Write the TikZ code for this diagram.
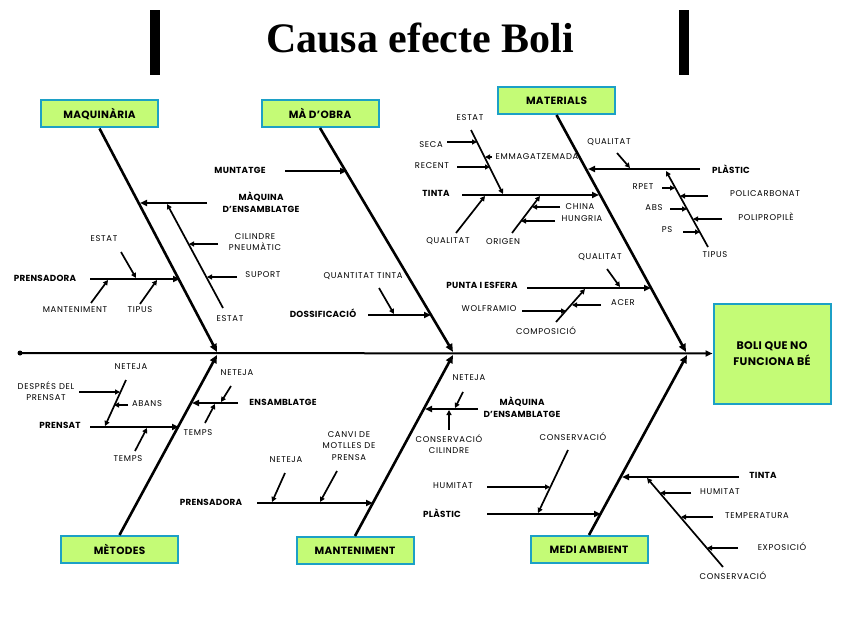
\documentclass[tikz,border=0pt]{standalone}
\usepackage{fontspec}
\setmainfont{Poppins}
\newfontfamily\titlefont{Liberation Serif}
\newfontfamily\lblfont[LetterSpace=8]{Poppins}
\newfontfamily\blblfont[LetterSpace=3]{Poppins}
\usetikzlibrary{arrows.meta}
\definecolor{boxfill}{HTML}{C4FB76}
\definecolor{boxline}{HTML}{1CA0C6}
\begin{document}
\begin{tikzpicture}[x=1pt,y=-1pt,
 catbox/.style={draw=boxline,line width=2pt,fill=boxfill,minimum width=117pt,minimum height=27pt,font=\blblfont\bfseries\fontsize{10.5}{11}\selectfont,inner sep=0pt},
 bone/.style={line width=2.6pt,-{Triangle[length=8pt,width=7pt]}},
 cause/.style={line width=2.4pt,-{Triangle[length=7pt,width=6pt]}},
 sub/.style={line width=1.7pt,-{Triangle[length=5pt,width=5pt]}},
 lbl/.style={font=\lblfont\fontsize{8.4}{11.5}\selectfont,inner sep=0pt,align=center},
 blbl/.style={font=\blblfont\bfseries\fontsize{8.8}{11.5}\selectfont,inner sep=0pt,align=center},
 bar/.style={fill=black,minimum width=10pt,minimum height=65pt,inner sep=0pt}
]
\useasboundingbox (0,0) rectangle (848,636);

% title
\node[bar] (barL) at (155,42.5) {};
\node[bar] (barR) at (684,42.5) {};
\node (title) at (420,38) {\titlefont\bfseries\fontsize{42}{44}\selectfont Causa efecte Boli};

% effect and spine
\node[catbox,minimum width=117pt,minimum height=100pt,font=\blblfont\bfseries\fontsize{11}{16}\selectfont,align=center] (eff) at (772,353.5) {BOLI QUE NO\\FUNCIONA BÉ};
\node[circle,fill=black,inner sep=0pt,minimum size=5pt] (dot) at (20,353) {};
\draw[line width=2pt,-{Triangle[length=7pt,width=6pt]}] (dot.center) -- (eff.west);

% category boxes
\node[catbox] (maq) at (99.5,114) {MAQUINÀRIA};
\node[catbox] (mao) at (320,113.5) {MÀ D’OBRA};
\node[catbox] (mat) at (556.5,100.5) {MATERIALS};
\node[catbox] (met) at (119.5,549.5) {MÈTODES};
\node[catbox] (man) at (355,550.5) {MANTENIMENT};
\node[catbox] (med) at (589,549.5) {MEDI AMBIENT};

% bone ends
\coordinate (mq1) at (217,352);
\coordinate (mo1) at (453,352);
\coordinate (ma1) at (686,352);
\coordinate (me1) at (217,355);
\coordinate (mn1) at (453,355);
\coordinate (md1) at (687,355);
\draw[bone] (maq.south) -- (mq1);
\draw[bone] (mao.south) -- (mo1);
\draw[bone] (mat.south) -- (ma1);
\draw[bone] (met.north) -- (me1);
\draw[bone] (man.north) -- (mn1);
\draw[bone] (med.north) -- (md1);

%%%%% MAQUINARIA
\node[blbl] (mqAl) at (261,202) {MÀQUINA\\D’ENSAMBLATGE};
\coordinate (mqA0) at (207,203); \coordinate (mqA1) at (140,203);
\draw[cause] (mqA0) -- (mqA1);
\node[lbl] (mqEl) at (230,319) {ESTAT};
\coordinate (mqE0) at (223,308); \coordinate (mqE1) at (167,204);
\draw[sub] (mqE0) -- (mqE1);
\node[lbl] (mqCl) at (255,242) {CILINDRE\\PNEUMÀTIC};
\coordinate (mqC0) at (218,244); \coordinate (mqC1) at (189,244);
\draw[sub] (mqC0) -- (mqC1);
\node[lbl] (mqSl) at (263,275) {SUPORT};
\coordinate (mqS0) at (237,277); \coordinate (mqS1) at (207,277);
\draw[sub] (mqS0) -- (mqS1);

\node[blbl] (mqPl) at (45,278) {PRENSADORA};
\coordinate (mqP0) at (90,279); \coordinate (mqP1) at (180,279);
\draw[cause] (mqP0) -- (mqP1);
\node[lbl] (mqPEl) at (104,239) {ESTAT};
\coordinate (mqPE0) at (121,252); \coordinate (mqPE1) at (136,278);
\draw[sub] (mqPE0) -- (mqPE1);
\node[lbl] (mqPMl) at (75,310) {MANTENIMENT};
\coordinate (mqPM0) at (91,303); \coordinate (mqPM1) at (108,280);
\draw[sub] (mqPM0) -- (mqPM1);
\node[lbl] (mqPTl) at (140,310) {TIPUS};
\coordinate (mqPT0) at (140,304); \coordinate (mqPT1) at (157,280);
\draw[sub] (mqPT0) -- (mqPT1);

%%%%% MA D'OBRA
\node[blbl] (moMl) at (240,170) {MUNTATGE};
\coordinate (moM0) at (285,171); \coordinate (moM1) at (347,171);
\draw[cause] (moM0) -- (moM1);
\node[blbl] (moDl) at (323,313) {DOSSIFICACIÓ};
\coordinate (moD0) at (368,315); \coordinate (moD1) at (431,315);
\draw[cause] (moD0) -- (moD1);
\node[lbl] (moQl) at (363,276) {QUANTITAT TINTA};
\coordinate (moQ0) at (379,288); \coordinate (moQ1) at (394,314);
\draw[sub] (moQ0) -- (moQ1);

%%%%% MATERIALS
\node[blbl,anchor=west] (maPl) at (712,169) {PLÀSTIC};
\coordinate (maP0) at (700,169); \coordinate (maP1) at (588,169);
\draw[cause] (maP0) -- (maP1);
\node[lbl] (maPQl) at (609,142) {QUALITAT};
\coordinate (maPQ0) at (617,153); \coordinate (maPQ1) at (630,168);
\draw[sub] (maPQ0) -- (maPQ1);
\node[lbl] (maPTl) at (715,255) {TIPUS};
\coordinate (maPT0) at (708,247); \coordinate (maPT1) at (666,171);
\draw[sub] (maPT0) -- (maPT1);
\node[lbl] (rpetl) at (643,187) {RPET};
\coordinate (rpet0) at (662,188); \coordinate (rpet1) at (675,188);
\draw[sub] (rpet0) -- (rpet1);
\node[lbl] (pcl) at (765,194) {POLICARBONAT};
\coordinate (pc0) at (708,196); \coordinate (pc1) at (680,196);
\draw[sub] (pc0) -- (pc1);
\node[lbl] (absl) at (654,208) {ABS};
\coordinate (abs0) at (670,209); \coordinate (abs1) at (687,209);
\draw[sub] (abs0) -- (abs1);
\node[lbl] (ppl) at (766,217) {POLIPROPILÈ};
\coordinate (pp0) at (722,219); \coordinate (pp1) at (693,219);
\draw[sub] (pp0) -- (pp1);
\node[lbl] (psl) at (667,230) {PS};
\coordinate (ps0) at (683,232); \coordinate (ps1) at (700,232);
\draw[sub] (ps0) -- (ps1);

\node[blbl] (maTl) at (436,193) {TINTA};
\coordinate (maT0) at (462,195); \coordinate (maT1) at (599,195);
\draw[cause] (maT0) -- (maT1);
\node[lbl] (maTEl) at (470,118) {ESTAT};
\coordinate (maTE0) at (471,130); \coordinate (maTE1) at (503,194);
\draw[sub] (maTE0) -- (maTE1);
\node[lbl] (secal) at (431,145) {SECA};
\coordinate (seca0) at (447,142); \coordinate (seca1) at (477,142);
\draw[sub] (seca0) -- (seca1);
\node[lbl] (emml) at (537,157) {EMMAGATZEMADA};
\coordinate (emm0) at (492,157); \coordinate (emm1) at (485,157);
\draw[sub] (emm0) -- (emm1);
\node[lbl] (recl) at (432,166) {RECENT};
\coordinate (rec0) at (457,167); \coordinate (rec1) at (490,167);
\draw[sub] (rec0) -- (rec1);
\node[lbl] (maTQl) at (448,241) {QUALITAT};
\coordinate (maTQ0) at (456,233); \coordinate (maTQ1) at (485,196);
\draw[sub] (maTQ0) -- (maTQ1);
\node[lbl] (origl) at (503,242) {ORIGEN};
\coordinate (orig0) at (512,233); \coordinate (orig1) at (540,196);
\draw[sub] (orig0) -- (orig1);
\node[lbl] (chinal) at (580,207) {CHINA};
\coordinate (china0) at (560,207); \coordinate (china1) at (532,207);
\draw[sub] (china0) -- (china1);
\node[lbl] (hungl) at (582,219) {HUNGRIA};
\coordinate (hung0) at (555,221); \coordinate (hung1) at (521,221);
\draw[sub] (hung0) -- (hung1);

\node[blbl] (maEl) at (482,285) {PUNTA I ESFERA};
\coordinate (maE0) at (527,288); \coordinate (maE1) at (651,288);
\draw[cause] (maE0) -- (maE1);
\node[lbl] (maEQl) at (600,257) {QUALITAT};
\coordinate (maEQ0) at (607,269); \coordinate (maEQ1) at (620,287);
\draw[sub] (maEQ0) -- (maEQ1);
\node[lbl] (compl) at (546,331) {COMPOSICIÓ};
\coordinate (comp0) at (556,322); \coordinate (comp1) at (585,289);
\draw[sub] (comp0) -- (comp1);
\node[lbl] (wolfl) at (489,309) {WOLFRAMIO};
\coordinate (wolf0) at (522,311); \coordinate (wolf1) at (566,311);
\draw[sub] (wolf0) -- (wolf1);
\node[lbl] (acerl) at (623,303) {ACER};
\coordinate (acer0) at (601,305); \coordinate (acer1) at (572,305);
\draw[sub] (acer0) -- (acer1);

%%%%% METODES
\node[blbl] (mePl) at (60,425) {PRENSAT};
\coordinate (meP0) at (90,427); \coordinate (meP1) at (179,427);
\draw[cause] (meP0) -- (meP1);
\node[lbl] (mePTl) at (128,459) {TEMPS};
\coordinate (mePT0) at (135,451); \coordinate (mePT1) at (147,428);
\draw[sub] (mePT0) -- (mePT1);
\node[lbl] (mePNl) at (131,367) {NETEJA};
\coordinate (mePN0) at (126,380); \coordinate (mePN1) at (105,426);
\draw[sub] (mePN0) -- (mePN1);
\node[lbl] (despl) at (46,391) {DESPRÉS DEL\\PRENSAT};
\coordinate (desp0) at (79,392); \coordinate (desp1) at (120,392);
\draw[sub] (desp0) -- (desp1);
\node[lbl] (abansl) at (147,404) {ABANS};
\coordinate (abans0) at (128,405); \coordinate (abans1) at (114,405);
\draw[sub] (abans0) -- (abans1);

\node[blbl] (meEl) at (283,402) {ENSAMBLATGE};
\coordinate (meE0) at (238,403); \coordinate (meE1) at (192,403);
\draw[cause] (meE0) -- (meE1);
\node[lbl] (meENl) at (237,373) {NETEJA};
\coordinate (meEN0) at (231,386); \coordinate (meEN1) at (221,402);
\draw[sub] (meEN0) -- (meEN1);
\node[lbl] (meETl) at (198,433) {TEMPS};
\coordinate (meET0) at (205,423); \coordinate (meET1) at (215,404);
\draw[sub] (meET0) -- (meET1);

%%%%% MANTENIMENT
\node[blbl] (mnPl) at (211,502) {PRENSADORA};
\coordinate (mnP0) at (257,503); \coordinate (mnP1) at (373,503);
\draw[cause] (mnP0) -- (mnP1);
\node[lbl] (mnPNl) at (286,460) {NETEJA};
\coordinate (mnPN0) at (285,473); \coordinate (mnPN1) at (272,502);
\draw[sub] (mnPN0) -- (mnPN1);
\node[lbl] (mnPCl) at (349,446) {CANVI DE\\MOTLLES DE\\PRENSA};
\coordinate (mnPC0) at (337,471); \coordinate (mnPC1) at (320,502);
\draw[sub] (mnPC0) -- (mnPC1);
\node[blbl] (mnMl) at (522,407) {MÀQUINA\\D’ENSAMBLATGE};
\coordinate (mnM0) at (478,409); \coordinate (mnM1) at (425,409);
\draw[cause] (mnM0) -- (mnM1);
\node[lbl] (mnMNl) at (469,378) {NETEJA};
\coordinate (mnMN0) at (463,392); \coordinate (mnMN1) at (455,408);
\draw[sub] (mnMN0) -- (mnMN1);
\node[lbl] (mnMCl) at (449,444) {CONSERVACIÓ\\CILINDRE};
\coordinate (mnMC0) at (449,430); \coordinate (mnMC1) at (449,410);
\draw[sub] (mnMC0) -- (mnMC1);

%%%%% MEDI AMBIENT
\node[blbl] (mdPl) at (442,513) {PLÀSTIC};
\coordinate (mdP0) at (487,514); \coordinate (mdP1) at (601,514);
\draw[cause] (mdP0) -- (mdP1);
\node[lbl] (mdPHl) at (453,486) {HUMITAT};
\coordinate (mdPH0) at (487,487); \coordinate (mdPH1) at (550,487);
\draw[sub] (mdPH0) -- (mdPH1);
\node[lbl] (mdPCl) at (573,437) {CONSERVACIÓ};
\coordinate (mdPC0) at (568,450); \coordinate (mdPC1) at (538,513);
\draw[sub] (mdPC0) -- (mdPC1);

\node[blbl] (mdTl) at (763,475) {TINTA};
\coordinate (mdT0) at (739,477); \coordinate (mdT1) at (622,477);
\draw[cause] (mdT0) -- (mdT1);
\node[lbl] (mdTCl) at (733,576) {CONSERVACIÓ};
\coordinate (mdTC0) at (723,567); \coordinate (mdTC1) at (647,478);
\draw[sub] (mdTC0) -- (mdTC1);
\node[lbl] (mdTHl) at (720,492) {HUMITAT};
\coordinate (mdTH0) at (691,493); \coordinate (mdTH1) at (660,493);
\draw[sub] (mdTH0) -- (mdTH1);
\node[lbl] (mdTTl) at (757,516) {TEMPERATURA};
\coordinate (mdTT0) at (713,517); \coordinate (mdTT1) at (681,517);
\draw[sub] (mdTT0) -- (mdTT1);
\node[lbl] (mdTEl) at (782,547) {EXPOSICIÓ};
\coordinate (mdTE0) at (738,548); \coordinate (mdTE1) at (707,548);
\draw[sub] (mdTE0) -- (mdTE1);
\end{tikzpicture}
\end{document}
